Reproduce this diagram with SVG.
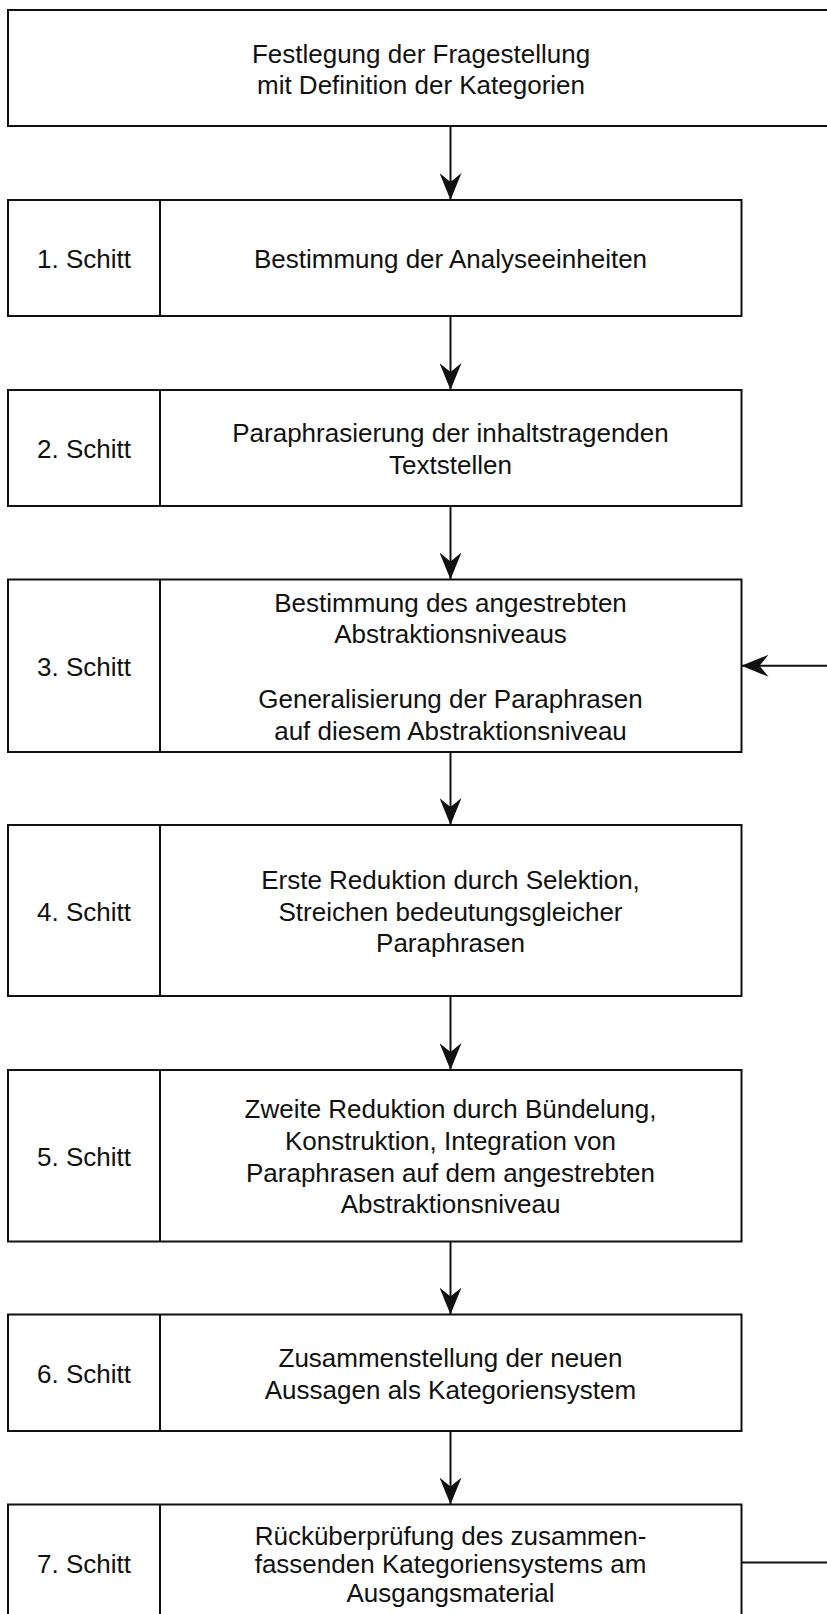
<svg xmlns="http://www.w3.org/2000/svg" width="827" height="1614" viewBox="0 0 827 1614">
  <style>
    .box { fill: #ffffff; stroke: #111111; stroke-width: 2; }
    .div { stroke: #111111; stroke-width: 2; }
    .t { font-family: "Liberation Sans", Arial, Helvetica, sans-serif; font-size: 26px; fill: #111111; text-anchor: middle; }
    .conn { fill: none; stroke: #111111; stroke-width: 2; }
  </style>
  <defs>
    <marker id="arrow" viewBox="0 0 27 22" refX="27" refY="11" markerWidth="27" markerHeight="22" orient="auto" markerUnits="userSpaceOnUse">
      <path d="M27,11 L0,0 L9,11 L0,22 Z" fill="#111111"/>
    </marker>
  </defs>
  <rect width="827" height="1614" fill="#ffffff"/>

  <!-- connectors -->
  <g id="connectors">
    <line class="conn" x1="450.5" y1="126" x2="450.5" y2="200" marker-end="url(#arrow)"/>
    <line class="conn" x1="450.5" y1="316" x2="450.5" y2="390" marker-end="url(#arrow)"/>
    <line class="conn" x1="450.5" y1="506" x2="450.5" y2="579.5" marker-end="url(#arrow)"/>
    <line class="conn" x1="450.5" y1="752" x2="450.5" y2="825" marker-end="url(#arrow)"/>
    <line class="conn" x1="450.5" y1="996" x2="450.5" y2="1070" marker-end="url(#arrow)"/>
    <line class="conn" x1="450.5" y1="1241.5" x2="450.5" y2="1314.5" marker-end="url(#arrow)"/>
    <line class="conn" x1="450.5" y1="1431" x2="450.5" y2="1504.5" marker-end="url(#arrow)"/>
    <!-- feedback loop from step 7 back to step 3 (runs past the right edge) -->
    <line class="conn" x1="741.5" y1="1562.5" x2="840" y2="1562.5"/>
    <line class="conn" x1="840" y1="665.75" x2="741.5" y2="665.75" marker-end="url(#arrow)"/>
  </g>

  <!-- start: research question -->
  <g id="start">
    <rect class="box" x="8" y="10" width="830" height="116"/>
    <text class="t" x="421" y="62.5">Festlegung der Fragestellung</text>
    <text class="t" x="421" y="94.2">mit Definition der Kategorien</text>
  </g>

  <g id="step1">
    <rect class="box" x="8" y="200" width="733.5" height="116"/>
    <line class="div" x1="160" y1="200" x2="160" y2="316"/>
    <text class="t" x="84" y="268.2">1. Schitt</text>
    <text class="t" x="450.5" y="268.2">Bestimmung der Analyseeinheiten</text>
  </g>

  <g id="step2">
    <rect class="box" x="8" y="390" width="733.5" height="116"/>
    <line class="div" x1="160" y1="390" x2="160" y2="506"/>
    <text class="t" x="84" y="458.2">2. Schitt</text>
    <text class="t" x="450.5" y="442.3">Paraphrasierung der inhaltstragenden</text>
    <text class="t" x="450.5" y="474">Textstellen</text>
  </g>

  <g id="step3">
    <rect class="box" x="8" y="579.5" width="733.5" height="172.5"/>
    <line class="div" x1="160" y1="579.5" x2="160" y2="752"/>
    <text class="t" x="84" y="676">3. Schitt</text>
    <text class="t" x="450.5" y="611.5">Bestimmung des angestrebten</text>
    <text class="t" x="450.5" y="643">Abstraktionsniveaus</text>
    <text class="t" x="450.5" y="708">Generalisierung der Paraphrasen</text>
    <text class="t" x="450.5" y="739.5">auf diesem Abstraktionsniveau</text>
  </g>

  <g id="step4">
    <rect class="box" x="8" y="825" width="733.5" height="171"/>
    <line class="div" x1="160" y1="825" x2="160" y2="996"/>
    <text class="t" x="84" y="920.5">4. Schitt</text>
    <text class="t" x="450.5" y="889">Erste Reduktion durch Selektion,</text>
    <text class="t" x="450.5" y="920.6">Streichen bedeutungsgleicher</text>
    <text class="t" x="450.5" y="952.3">Paraphrasen</text>
  </g>

  <g id="step5">
    <rect class="box" x="8" y="1070" width="733.5" height="171.5"/>
    <line class="div" x1="160" y1="1070" x2="160" y2="1241.5"/>
    <text class="t" x="84" y="1165.7">5. Schitt</text>
    <text class="t" x="450.5" y="1118.3">Zweite Reduktion durch Bündelung,</text>
    <text class="t" x="450.5" y="1150">Konstruktion, Integration von</text>
    <text class="t" x="450.5" y="1181.7">Paraphrasen auf dem angestrebten</text>
    <text class="t" x="450.5" y="1213.4">Abstraktionsniveau</text>
  </g>

  <g id="step6">
    <rect class="box" x="8" y="1314.5" width="733.5" height="116.5"/>
    <line class="div" x1="160" y1="1314.5" x2="160" y2="1431"/>
    <text class="t" x="84" y="1382.7">6. Schitt</text>
    <text class="t" x="450.5" y="1367.3">Zusammenstellung der neuen</text>
    <text class="t" x="450.5" y="1399.2">Aussagen als Kategoriensystem</text>
  </g>

  <g id="step7">
    <rect class="box" x="8" y="1504.5" width="733.5" height="117"/>
    <line class="div" x1="160" y1="1504.5" x2="160" y2="1621.5"/>
    <text class="t" x="84" y="1573.3">7. Schitt</text>
    <text class="t" x="450.5" y="1544.5">Rücküberprüfung des zusammen-</text>
    <text class="t" x="450.5" y="1573.3">fassenden Kategoriensystems am</text>
    <text class="t" x="450.5" y="1602">Ausgangsmaterial</text>
  </g>
</svg>
